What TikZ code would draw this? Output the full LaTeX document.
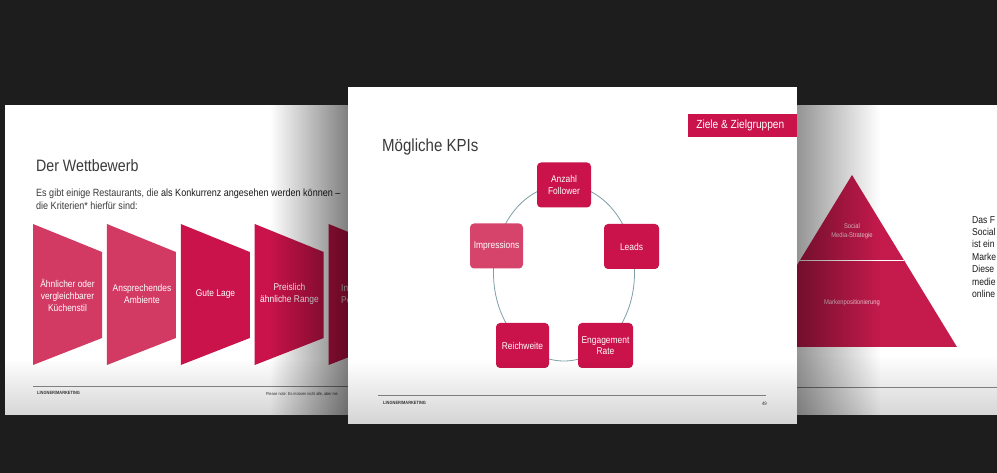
\documentclass[tikz,border=0pt]{standalone}
\usepackage{fontspec}
\setmainfont[FakeStretch=0.86]{Liberation Sans}
\usetikzlibrary{fadings}
\definecolor{bg}{HTML}{1D1D1D}
\definecolor{crim}{HTML}{C9134A}
\definecolor{crimL}{HTML}{D23A63}
\definecolor{imp}{HTML}{D6436B}
\definecolor{pyr}{HTML}{C41A4C}
\definecolor{txt}{HTML}{3A3A3A}
\definecolor{dk}{HTML}{1A1A1A}
\definecolor{ring}{HTML}{7F9FA6}
\definecolor{foot}{HTML}{8A8A8A}
\tikzfading[name=fadeE, left color=transparent!100, right color=transparent!0]
\tikzfading[name=fadeW, left color=transparent!0, right color=transparent!100]
\tikzfading[name=fadeS, top color=transparent!100, bottom color=transparent!0]
\tikzset{
  slide/.style={fill=white},
  kpi/.style={rounded corners=4, fill=crim, text=white, minimum width=54, minimum height=45,
    align=center, inner sep=1, font=\fontsize{9.8}{11.6}\selectfont},
  crit/.style={text=white, align=center, inner sep=0, font=\fontsize{9.8}{12}\selectfont},
  footlbl/.style={inner sep=0, text=txt, font=\fontsize{4.6}{5}\selectfont\bfseries},
  footline/.style={draw=foot, line width=0.8},
  pyrlbl/.style={text=white!80!crim, align=center, inner sep=0, font=\fontsize{6.8}{9.5}\selectfont},
}
\begin{document}
\begin{tikzpicture}[x=1pt,y=-1pt]
\fill[bg] (0,0) rectangle (997,473);
\useasboundingbox (0,0) rectangle (997,473);

% ---------- right slide ----------
\fill[slide] (797,105) rectangle (997,415);
\fill[pyr] (852,175) -- (957,347) -- (747,347) -- cycle;
\draw[white, line width=0.8] (799,260) -- (904,260);
\node[pyrlbl] (p1) at (852,231) {Social\\Media-Strategie};
\node[pyrlbl] (p2) at (852,303) {Markenpositionierung};
\node[anchor=north west, inner sep=0, align=left, text=dk, font=\fontsize{10}{12.4}\selectfont] (rt) at (972,216)
  {Das F\\Social\\ist ein\\Marke\\Diese\\medie\\online};
\draw[footline] (797,387) -- (997,387);
\fill[black, fill opacity=0.42, path fading=fadeW] (797,105) rectangle (880,415);
\fill[black, fill opacity=0.16, path fading=fadeS] (797,355) rectangle (997,415);

% ---------- left slide ----------
\fill[slide] (5,105) rectangle (348,415);
\node[anchor=base west, inner sep=0, text=txt, font=\fontsize{16.5}{20}\selectfont] (t1) at (36,172) {Der Wettbewerb};
\node[anchor=base west, inner sep=0, text=txt, font=\fontsize{10.5}{12}\selectfont] (b1) at (36,197)
  {Es gibt einige Restaurants, die \textcolor{dk}{als Konkurrenz angesehen werden können –}};
\node[anchor=base west, inner sep=0, text=txt, font=\fontsize{10.5}{12}\selectfont] (b2) at (36,209.5)
  {die Kriterien* hierfür sind:};
\foreach \i/\c in {0/crimL,1/crimL,2/crim,3/crim,4/crim}{
  \fill[\c] ({33+73.9*\i},224) -- ({102+73.9*\i},252) -- ({102+73.9*\i},338) -- ({33+73.9*\i},365) -- cycle;
}
\node[crit] (s1) at (67.5,295) {Ähnlicher oder\\vergleichbarer\\Küchenstil};
\node[crit] (s2) at (142,294) {Ansprechendes\\Ambiente};
\node[crit] (s3) at (215.5,294) {Gute Lage};
\node[crit] (s4) at (289.5,294) {Preislich\\ähnliche Range};
\node[crit, anchor=west, align=left] (s5) at (341,294) {In\\Pe};
\draw[footline] (33,386) -- (348,386);
\node[footlbl, anchor=west] (f1) at (37,393) {LINGNER/MARKETING};
\node[anchor=west, inner sep=0, text=txt, font=\fontsize{4.3}{5}\selectfont] (f2) at (266,394)
  {Please note: Es müssen nicht alle, aber me};
\fill[black, fill opacity=0.5, path fading=fadeE] (270,105) rectangle (348,415);
\fill[black, fill opacity=0.16, path fading=fadeS] (5,358) rectangle (348,415);

% ---------- middle slide ----------
\fill[slide] (348,87) rectangle (797,424);
\node[anchor=base west, inner sep=0, text=txt, font=\fontsize{17.5}{21}\selectfont] (t2) at (382,152) {Mögliche KPIs};
\node[fill=crim, text=white, minimum width=109, minimum height=23, inner sep=0, anchor=north east,
  font=\fontsize{11.8}{13}\selectfont] (tag) at (797,114) {\hspace*{-4pt}Ziele \& Zielgruppen};
\coordinate (ctr) at (564,273);
\draw[ring, line width=0.8] (ctr) ellipse [x radius=70.5, y radius=88];
\node[kpi] (af) at (564,185) {Anzahl\\Follower};
\node[kpi, minimum width=55] (ld) at (631.5,246.5) {Leads};
\node[kpi, minimum width=55] (er) at (605.5,345.5) {Engagement\\Rate};
\node[kpi, minimum width=53] (rw) at (522.5,345.5) {Reichweite};
\node[kpi, fill=imp, minimum width=53] (im) at (496.5,246) {Impressions};
\draw[footline] (378,395) -- (766,395);
\node[footlbl, anchor=west] (f3) at (383,403) {LINGNER/MARKETING};
\node[anchor=east, inner sep=0, text=txt, font=\fontsize{5}{6}\selectfont] (pg) at (767,404) {49};
\fill[black, fill opacity=0.17, path fading=fadeS] (348,360) rectangle (797,424);
\end{tikzpicture}
\end{document}
